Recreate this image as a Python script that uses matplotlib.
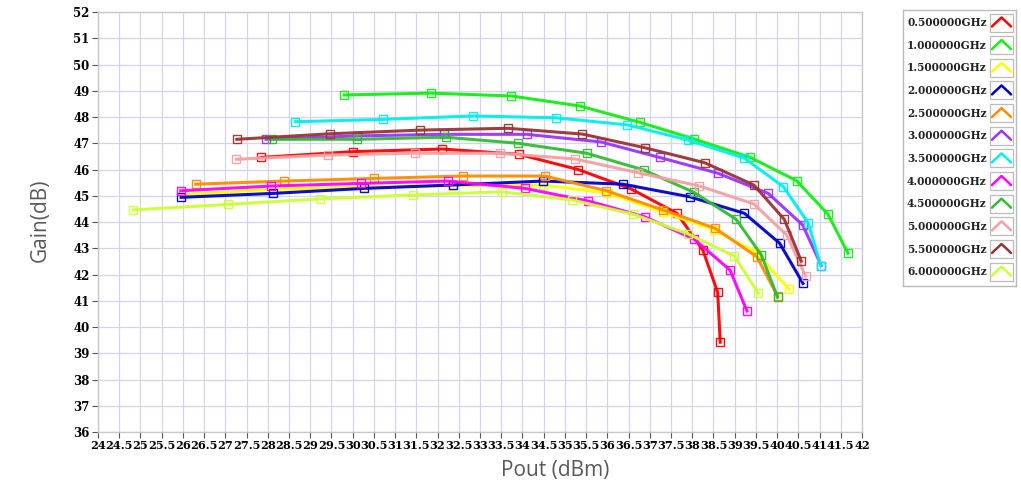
import numpy as np
import matplotlib.pyplot as plt
from matplotlib.patches import Rectangle

# ---- data (Pout in dBm, Gain in dB) ----
freqs = ['0.500000GHz', '1.000000GHz', '1.500000GHz', '2.000000GHz',
         '2.500000GHz', '3.000000GHz', '3.500000GHz', '4.000000GHz',
         '4.500000GHz', '5.000000GHz', '5.500000GHz', '6.000000GHz']

pout_05 = [27.84, 30.01, 32.11, 33.91, 35.31, 36.56, 37.64, 38.25, 38.60, 38.66]
gain_05 = [46.46, 46.68, 46.78, 46.58, 46.00, 45.26, 44.33, 42.93, 41.32, 39.42]

pout_10 = [29.80, 31.84, 33.74, 35.35, 36.76, 38.05, 39.37, 40.46, 41.20, 41.67]
gain_10 = [48.84, 48.91, 48.80, 48.42, 47.80, 47.16, 46.46, 45.57, 44.29, 42.81]

pout_15 = [26.00, 28.19, 30.27, 32.34, 34.49, 36.02, 37.31, 38.52, 39.50, 40.28]
gain_15 = [45.05, 45.25, 45.33, 45.38, 45.41, 45.10, 44.38, 43.70, 42.85, 41.44]

pout_20 = [25.96, 28.12, 30.27, 32.36, 34.49, 36.37, 37.94, 39.23, 40.06, 40.61]
gain_20 = [44.94, 45.09, 45.28, 45.41, 45.56, 45.44, 44.96, 44.33, 43.19, 41.66]

pout_25 = [26.30, 28.39, 30.50, 32.59, 34.53, 35.98, 37.31, 38.54, 39.52, 40.01]
gain_25 = [45.44, 45.56, 45.66, 45.75, 45.75, 45.19, 44.46, 43.76, 42.68, 41.19]

pout_30 = [27.96, 30.10, 32.15, 34.10, 35.85, 37.23, 38.60, 39.79, 40.60, 41.04]
gain_30 = [47.15, 47.28, 47.34, 47.34, 47.05, 46.46, 45.86, 45.09, 43.89, 42.34]

pout_35 = [28.65, 30.72, 32.83, 34.78, 36.47, 37.90, 39.23, 40.15, 40.73, 41.03]
gain_35 = [47.82, 47.91, 48.04, 47.97, 47.70, 47.12, 46.43, 45.34, 43.97, 42.34]

pout_40 = [25.95, 28.08, 30.19, 32.24, 34.06, 35.55, 36.88, 38.05, 38.89, 39.29]
gain_40 = [45.19, 45.37, 45.47, 45.56, 45.28, 44.80, 44.20, 43.34, 42.17, 40.61]

pout_45 = [28.11, 30.11, 32.19, 33.89, 35.51, 36.86, 38.04, 39.03, 39.63, 40.01]
gain_45 = [47.15, 47.15, 47.23, 47.00, 46.62, 45.98, 45.13, 44.11, 42.74, 41.13]

pout_50 = [27.26, 29.41, 31.46, 33.48, 35.24, 36.72, 38.17, 39.45, 40.23, 40.67]
gain_50 = [46.39, 46.55, 46.62, 46.62, 46.40, 45.88, 45.37, 44.69, 43.50, 41.94]

pout_55 = [27.27, 29.46, 31.58, 33.66, 35.41, 36.88, 38.29, 39.45, 40.17, 40.57]
gain_55 = [47.15, 47.36, 47.50, 47.57, 47.35, 46.83, 46.26, 45.41, 44.10, 42.51]

pout_60 = [24.83, 27.06, 29.23, 31.42, 33.51, 35.16, 36.60, 37.90, 38.99, 39.56]
gain_60 = [44.46, 44.67, 44.88, 45.03, 45.15, 44.84, 44.30, 43.55, 42.70, 41.28]

pouts = [pout_05, pout_10, pout_15, pout_20, pout_25, pout_30,
         pout_35, pout_40, pout_45, pout_50, pout_55, pout_60]
gains = [gain_05, gain_10, gain_15, gain_20, gain_25, gain_30,
         gain_35, gain_40, gain_45, gain_50, gain_55, gain_60]

colors = ['#ff0000', '#11ee11', '#ffff00', '#0000cc', '#ff8c00', '#9933ff',
          '#00eeee', '#ff00ff', '#33bb33', '#f4a0a0', '#993333', '#ccff33']

W, H = 1021, 490
fig = plt.figure(figsize=(W / 100, H / 100), dpi=100)
ax = fig.add_axes([98 / W, 1 - 432 / H, (862 - 98) / W, (432 - 12) / H])

#-- curves
for px, gy, c in zip(pouts, gains, colors):
    ax.plot(px, gy, '-', color=c, lw=2.2, marker='s', ms=6,
            mfc='none', mec=c, mew=1.0, alpha=0.95)

ax.set_xlim(24, 42)
ax.set_ylim(36, 52)
xt = np.arange(24, 42.01, 0.5)
ax.set_xticks(xt)
ax.set_xticklabels([f'{v:g}' for v in xt], fontfamily='DejaVu Serif',
                   fontsize=8.2, fontweight='bold')
yt = np.arange(36, 53, 1)
ax.set_yticks(yt)
ax.set_yticklabels([str(v) for v in yt], fontfamily='DejaVu Serif',
                   fontsize=8.5, fontweight='bold')
ax.tick_params(axis='both', length=4, width=0.8, color='#555555', pad=2)
ax.grid(True, color='#d4d4f2', lw=0.9)
ax.set_axisbelow(True)
for s in ax.spines.values():
    s.set_color('#c8c8c8')
    s.set_linewidth(1.0)

fig.text(40 / W, 1 - 220 / H, 'Gain(dB)', rotation=90, ha='center', va='center',
         fontsize=15, color='#595959', fontfamily='Open Sans')
fig.text(555 / W, 1 - 470 / H, 'Pout (dBm)', ha='center', va='center',
         fontsize=15, color='#595959', fontfamily='Open Sans')

#-- legend box drawn by hand (label left, icon right)
lx0, ly0, lw_, lh_ = 903, 10, 113, 276
lax = fig.add_axes([lx0 / W, 1 - (ly0 + lh_) / H, lw_ / W, lh_ / H])
lax.set_xlim(0, lw_)
lax.set_ylim(lh_, 0)
lax.set_xticks([])
lax.set_yticks([])
for s in lax.spines.values():
    s.set_color('#bbbbbb')
    s.set_linewidth(1.0)
for i, (name, c) in enumerate(zip(freqs, colors)):
    yc = 12.5 + i * 22.65
    lax.text(4, yc, name, fontsize=7.6, fontfamily='DejaVu Serif',
             fontweight='bold', va='center', ha='left', color='#222222')
    lax.add_patch(Rectangle((87, yc - 9), 23, 18, fill=False,
                            ec='#bbbbbb', lw=0.9))
    lax.plot([89, 91, 98.5, 106, 108], [yc + 4, yc + 2, yc - 5, yc + 2, yc + 4],
             color=c, lw=1.8, solid_capstyle='round')

fig.savefig('out.png', dpi=100)
